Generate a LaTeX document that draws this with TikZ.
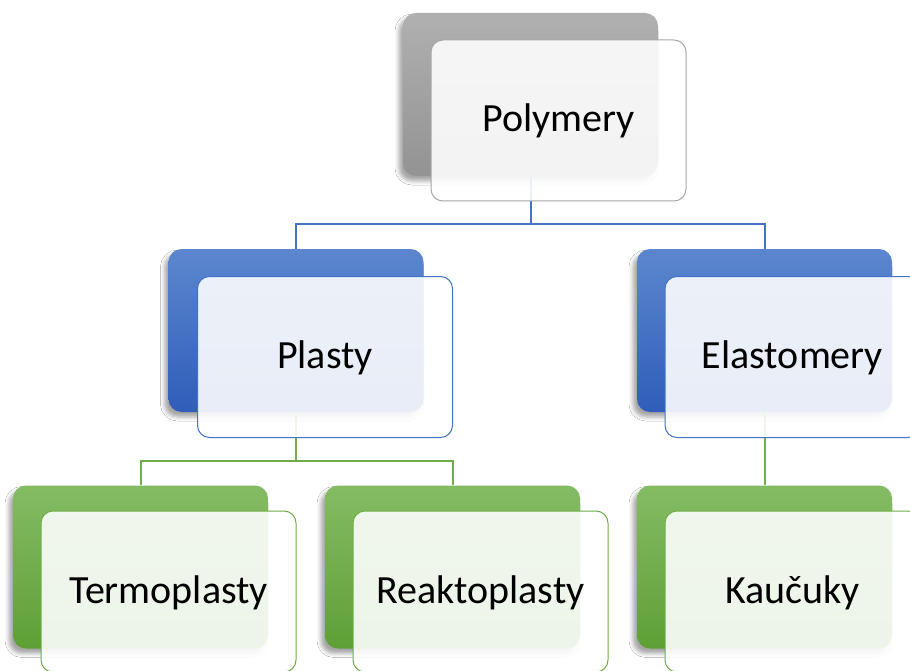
\documentclass[tikz,border=0pt]{standalone}
\usepackage{fontspec}
\setmainfont{Carlito}
\usetikzlibrary{shadows.blur}
\definecolor{grayT}{HTML}{B0B0B0}
\definecolor{grayB}{HTML}{939393}
\definecolor{blueT}{HTML}{5C87CF}
\definecolor{blueB}{HTML}{2F5DB9}
\definecolor{greenT}{HTML}{84BC65}
\definecolor{greenB}{HTML}{5E9F35}
\definecolor{grayE}{HTML}{A6A6A6}
\definecolor{blueE}{HTML}{4472C4}
\definecolor{greenE}{HTML}{70AD47}
\tikzset{
  backbox/.style={rectangle, rounded corners=13pt, minimum width=255pt, minimum height=163pt,
    inner sep=0pt, draw=none,
    blur shadow={shadow xshift=-4pt, shadow yshift=-5pt, shadow blur radius=4pt, shadow opacity=35}},
  grayback/.style={backbox, top color=grayT, bottom color=grayB},
  blueback/.style={backbox, top color=blueT, bottom color=blueB},
  greenback/.style={backbox, top color=greenT, bottom color=greenB},
  frontbox/.style={rectangle, rounded corners=12pt, minimum width=255pt, minimum height=161pt,
    inner sep=0pt, fill=white, fill opacity=0.89, text opacity=1, line width=1pt,
    text height=23pt, text depth=0pt,
    font=\fontsize{40pt}{44pt}\selectfont, text=black},
  grayfront/.style={frontbox, draw=grayE},
  bluefront/.style={frontbox, draw=blueE},
  greenfront/.style={frontbox, draw=greenE},
  blueline/.style={draw=blueE, line width=2pt},
  greenline/.style={draw=greenE, line width=2pt},
}
\begin{document}
\begin{tikzpicture}[x=1pt, y=-1pt]
\fill[white] (0,0) rectangle (910,671);
\useasboundingbox (0,0) rectangle (910,671);
% back boxes
\node[grayback] (polb) at (530.5,94.5) {};
\node[blueback] (plab) at (296,330.5) {};
\node[blueback] (elab) at (764.5,330.5) {};
\node[greenback] (terb) at (140.5,567) {};
\node[greenback] (reab) at (452.5,567) {};
\node[greenback] (kaub) at (764.5,567) {};
% connectors
\draw[blueline] (polb.south) -- ++(0,48) -| (plab.north);
\draw[blueline] (polb.south) -- ++(0,48) -| (elab.north);
\draw[greenline] (plab.south) -- ++(0,49) -| (terb.north);
\draw[greenline] (plab.south) -- ++(0,49) -| (reab.north);
\draw[greenline] (elab.south) -- (kaub.north);
% front boxes
\node[grayfront] (pol) at (558.5,120.5) {Polymery};
\node[bluefront] (pla) at (325,357) {Plasty};
\node[bluefront] (ela) at (792.5,357) {Elastomery};
\node[greenfront] (ter) at (168.5,591.5) {Termoplasty};
\node[greenfront] (rea) at (480.5,591.5) {Reaktoplasty};
\node[greenfront] (kau) at (792.5,591.5) {Kaučuky};
\end{tikzpicture}
\end{document}
